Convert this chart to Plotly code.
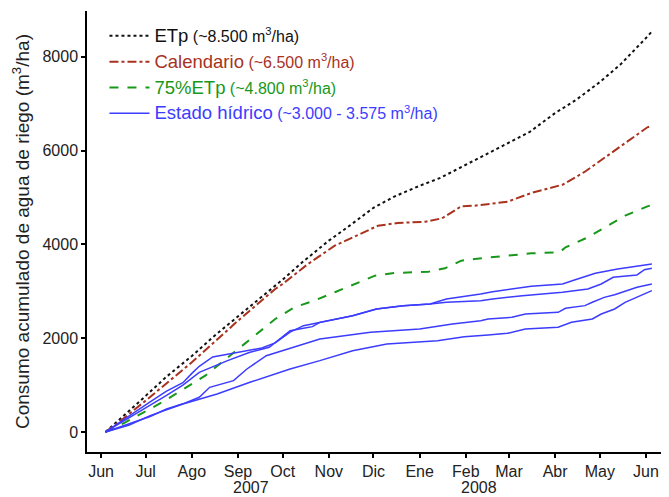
import pandas as pd
import plotly.graph_objects as go

# Days since 2007-06-01 and cumulative irrigation (m3/ha)
etp_day = [3, 14, 30, 44, 61, 75, 92, 106, 122, 136, 153, 167, 183, 197, 214, 228, 245, 259, 274, 288, 305, 319, 335, 349, 366, 370]
etp_val = [0, 310, 770, 1180, 1620, 2020, 2460, 2830, 3250, 3640, 4080, 4400, 4780, 5020, 5250, 5420, 5700, 5930, 6170, 6400, 6800, 7080, 7460, 7840, 8400, 8540]

cal_day = [3, 14, 30, 61, 92, 117, 122, 139, 157, 169, 186, 199, 218, 229, 242, 251, 273, 289, 310, 325, 343, 367, 370]
cal_val = [0, 260, 668, 1486, 2373, 3049, 3156, 3582, 3972, 4151, 4398, 4456, 4484, 4556, 4812, 4825, 4910, 5096, 5273, 5550, 5963, 6497, 6524]

g75_day = [3, 16, 30, 41, 70, 85, 117, 130, 143, 157, 170, 184, 197, 220, 231, 242, 251, 267, 289, 308, 312, 327, 343, 352, 367, 370]
g75_val = [0, 200, 440, 633, 1200, 1592, 2409, 2659, 2800, 2979, 3156, 3333, 3390, 3418, 3490, 3653, 3689, 3746, 3810, 3831, 3938, 4151, 4435, 4612, 4812, 4840]

b1_day = [3, 19, 33, 44, 55, 61, 66, 75, 92, 108, 117, 127, 136, 147, 169, 185, 203, 221, 232, 255, 263, 289, 310, 318, 332, 347, 360, 370]
b1_val = [0, 350, 640, 870, 1050, 1250, 1400, 1600, 1700, 1790, 1900, 2130, 2267, 2338, 2480, 2623, 2694, 2729, 2836, 2942, 2992, 3106, 3156, 3241, 3383, 3475, 3532, 3582]

b2_day = [3, 19, 33, 44, 55, 66, 85, 100, 113, 127, 136, 142, 147, 169, 185, 203, 221, 232, 255, 263, 283, 310, 327, 336, 344, 360, 365, 370]
b2_val = [0, 300, 560, 780, 1000, 1272, 1521, 1699, 1805, 2160, 2211, 2246, 2338, 2480, 2623, 2694, 2729, 2765, 2800, 2836, 2907, 2978, 3049, 3156, 3298, 3348, 3461, 3490]

b3_day = [3, 19, 33, 44, 55, 66, 73, 89, 98, 111, 127, 134, 147, 181, 214, 236, 255, 260, 276, 285, 307, 312, 325, 330, 338, 345, 354, 360, 370]
b3_val = [0, 180, 330, 490, 600, 739, 952, 1094, 1343, 1627, 1784, 1841, 1983, 2125, 2196, 2303, 2374, 2409, 2445, 2516, 2552, 2637, 2694, 2765, 2871, 2928, 3014, 3085, 3156]

b4_day = [3, 19, 33, 55, 78, 100, 127, 147, 169, 192, 226, 239, 244, 260, 273, 285, 307, 316, 330, 336, 345, 352, 360, 370]
b4_val = [0, 150, 348, 597, 810, 1059, 1343, 1521, 1734, 1876, 1947, 2018, 2033, 2068, 2104, 2196, 2232, 2338, 2409, 2516, 2623, 2765, 2871, 3014]

month_ticks = ["2007-06-01", "2007-07-01", "2007-08-01", "2007-09-01", "2007-10-01", "2007-11-01",
               "2007-12-01", "2008-01-01", "2008-02-01", "2008-03-01", "2008-04-01", "2008-05-01", "2008-06-01"]
month_labels = ["Jun", "Jul", "Ago", "Sep", "Oct", "Nov", "Dic", "Ene", "Feb", "Mar", "Abr", "May", "Jun"]
year_labels = ["2007", "2008"]
year_pos = ["2007-09-10", "2008-02-10"]

origin = pd.Timestamp("2007-06-01")


def to_dates(days):
    return [origin + pd.Timedelta(days=d) for d in days]


FONT = "Liberation Sans, Arial, Helvetica, sans-serif"
C_ETP = "#111111"
C_CAL = "#a8321e"
C_G75 = "#18981a"
C_BLUE = "#3c3cff"


def lab(name, extra, color):
    return (f"<span style='color:{color};font-size:18.5px'>{name}</span>"
            f"<span style='color:{color}'> (~{extra} m<sup>3</sup>/ha)</span>")


fig = go.Figure()
fig.add_trace(go.Scatter(x=to_dates(etp_day), y=etp_val, mode="lines",
                         line=dict(color=C_ETP, width=2, dash="dot"),
                         name=lab("ETp", "8.500", C_ETP), legendgroup="a"))
fig.add_trace(go.Scatter(x=to_dates(cal_day), y=cal_val, mode="lines",
                         line=dict(color=C_CAL, width=2, dash="dashdot"),
                         name=lab("Calendario", "6.500", C_CAL), legendgroup="b"))
fig.add_trace(go.Scatter(x=to_dates(g75_day), y=g75_val, mode="lines",
                         line=dict(color=C_G75, width=2, dash="dash"),
                         name=lab("75%ETp", "4.800", C_G75), legendgroup="c"))
for i, (d, v) in enumerate([(b1_day, b1_val), (b2_day, b2_val), (b3_day, b3_val), (b4_day, b4_val)]):
    fig.add_trace(go.Scatter(x=to_dates(d), y=v, mode="lines",
                             line=dict(color=C_BLUE, width=1.5),
                             name=lab("Estado hídrico", "3.000 - 3.575", C_BLUE),
                             showlegend=(i == 0), legendgroup="d"))

for txt, pos in zip(year_labels, year_pos):
    fig.add_annotation(x=pos, xref="x", y=-0.081, yref="paper", text=txt, showarrow=False,
                       font=dict(size=16, color="#222222", family=FONT), yanchor="middle")

# The page body has an 8px default margin, so the figure is sized to fit the window.
fig.update_layout(
    width=661, height=489,
    margin=dict(l=79, r=0, t=3, b=45),
    paper_bgcolor="white", plot_bgcolor="white",
    font=dict(family=FONT, size=16, color="#222222"),
    showlegend=True,
    legend=dict(x=0.03, y=0.982, xanchor="left", yanchor="top",
                bgcolor="rgba(0,0,0,0)", font=dict(size=16, family=FONT),
                tracegroupgap=2, itemwidth=40, traceorder="grouped"),
)
fig.update_xaxes(
    range=["2007-05-22 14:00", "2008-06-16 12:00"],
    tickvals=month_ticks, ticktext=month_labels,
    showline=True, linecolor="black", linewidth=1.5,
    ticks="outside", ticklen=4, tickwidth=1.5, tickcolor="black",
    showgrid=False, zeroline=False, automargin=False,
    tickfont=dict(size=16, color="#222222"),
)
fig.update_yaxes(
    range=[-427, 8977],
    tickvals=[0, 2000, 4000, 6000, 8000],
    showline=True, linecolor="black", linewidth=1.5,
    ticks="outside", ticklen=4, tickwidth=1.5, tickcolor="black",
    showgrid=False, zeroline=False, automargin=False,
    tickfont=dict(size=16, color="#222222"),
    title=dict(text="Consumo acumulado de agua de riego (m<sup>3</sup>/ha)",
               font=dict(size=19, color="#222222"), standoff=8),
)

fig.write_html("out.html")
